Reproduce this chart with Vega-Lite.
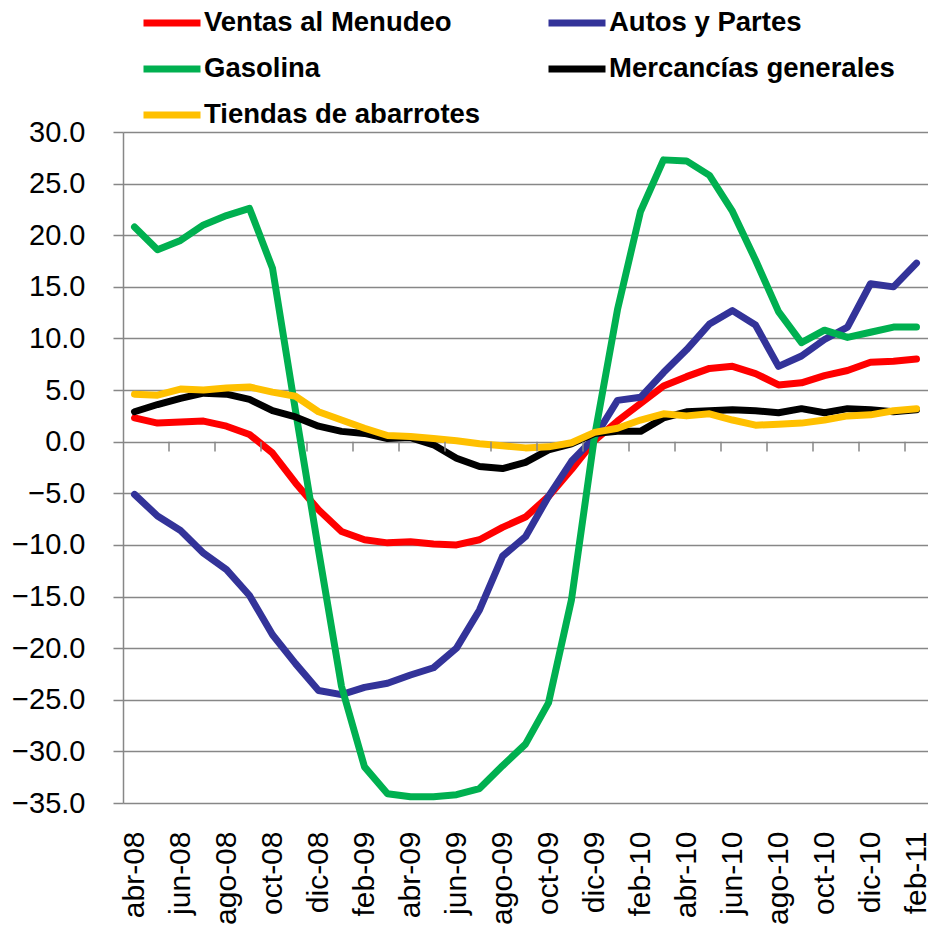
{
  "$schema": "https://vega.github.io/schema/vega-lite/v6.json",
  "autosize": "none",
  "width": 805,
  "height": 671,
  "padding": {"left": 123, "top": 132, "right": 0, "bottom": 122},
  "background": "white",
  "config": {
    "view": {"stroke": null},
    "font": "Liberation Sans"
  },
  "datasets": {
    "series": [
      {"mes": "abr-08", "Ventas al Menudeo": 2.3, "Autos y Partes": -5.1, "Gasolina": 20.8, "Mercancías generales": 2.9, "Tiendas de abarrotes": 4.6},
      {"mes": "may-08", "Ventas al Menudeo": 1.8, "Autos y Partes": -7.2, "Gasolina": 18.6, "Mercancías generales": 3.6, "Tiendas de abarrotes": 4.5},
      {"mes": "jun-08", "Ventas al Menudeo": 1.9, "Autos y Partes": -8.6, "Gasolina": 19.5, "Mercancías generales": 4.2, "Tiendas de abarrotes": 5.1},
      {"mes": "jul-08", "Ventas al Menudeo": 2.0, "Autos y Partes": -10.8, "Gasolina": 21.0, "Mercancías generales": 4.7, "Tiendas de abarrotes": 5.0},
      {"mes": "ago-08", "Ventas al Menudeo": 1.5, "Autos y Partes": -12.4, "Gasolina": 21.9, "Mercancías generales": 4.6, "Tiendas de abarrotes": 5.2},
      {"mes": "sep-08", "Ventas al Menudeo": 0.7, "Autos y Partes": -14.9, "Gasolina": 22.6, "Mercancías generales": 4.1, "Tiendas de abarrotes": 5.3},
      {"mes": "oct-08", "Ventas al Menudeo": -1.1, "Autos y Partes": -18.7, "Gasolina": 16.8, "Mercancías generales": 3.0, "Tiendas de abarrotes": 4.8},
      {"mes": "nov-08", "Ventas al Menudeo": -4.0, "Autos y Partes": -21.5, "Gasolina": 3.0, "Mercancías generales": 2.4, "Tiendas de abarrotes": 4.4},
      {"mes": "dic-08", "Ventas al Menudeo": -6.6, "Autos y Partes": -24.1, "Gasolina": -10.5, "Mercancías generales": 1.5, "Tiendas de abarrotes": 2.9},
      {"mes": "ene-09", "Ventas al Menudeo": -8.7, "Autos y Partes": -24.5, "Gasolina": -23.7, "Mercancías generales": 1.0, "Tiendas de abarrotes": 2.1},
      {"mes": "feb-09", "Ventas al Menudeo": -9.5, "Autos y Partes": -23.8, "Gasolina": -31.5, "Mercancías generales": 0.8, "Tiendas de abarrotes": 1.3},
      {"mes": "mar-09", "Ventas al Menudeo": -9.8, "Autos y Partes": -23.4, "Gasolina": -34.1, "Mercancías generales": 0.3, "Tiendas de abarrotes": 0.6},
      {"mes": "abr-09", "Ventas al Menudeo": -9.7, "Autos y Partes": -22.6, "Gasolina": -34.4, "Mercancías generales": 0.4, "Tiendas de abarrotes": 0.5},
      {"mes": "may-09", "Ventas al Menudeo": -9.9, "Autos y Partes": -21.9, "Gasolina": -34.4, "Mercancías generales": -0.3, "Tiendas de abarrotes": 0.3},
      {"mes": "jun-09", "Ventas al Menudeo": -10.0, "Autos y Partes": -20.0, "Gasolina": -34.2, "Mercancías generales": -1.6, "Tiendas de abarrotes": 0.1},
      {"mes": "jul-09", "Ventas al Menudeo": -9.5, "Autos y Partes": -16.3, "Gasolina": -33.6, "Mercancías generales": -2.4, "Tiendas de abarrotes": -0.2},
      {"mes": "ago-09", "Ventas al Menudeo": -8.3, "Autos y Partes": -11.1, "Gasolina": -31.4, "Mercancías generales": -2.6, "Tiendas de abarrotes": -0.4},
      {"mes": "sep-09", "Ventas al Menudeo": -7.3, "Autos y Partes": -9.2, "Gasolina": -29.3, "Mercancías generales": -2.0, "Tiendas de abarrotes": -0.6},
      {"mes": "oct-09", "Ventas al Menudeo": -5.3, "Autos y Partes": -5.3, "Gasolina": -25.3, "Mercancías generales": -0.8, "Tiendas de abarrotes": -0.5},
      {"mes": "nov-09", "Ventas al Menudeo": -2.7, "Autos y Partes": -1.9, "Gasolina": -15.3, "Mercancías generales": -0.2, "Tiendas de abarrotes": -0.1},
      {"mes": "dic-09", "Ventas al Menudeo": 0.1, "Autos y Partes": 0.4, "Gasolina": 0.5, "Mercancías generales": 0.8, "Tiendas de abarrotes": 0.9},
      {"mes": "ene-10", "Ventas al Menudeo": 2.0, "Autos y Partes": 4.0, "Gasolina": 12.8, "Mercancías generales": 1.0, "Tiendas de abarrotes": 1.3},
      {"mes": "feb-10", "Ventas al Menudeo": 3.7, "Autos y Partes": 4.3, "Gasolina": 22.3, "Mercancías generales": 1.0, "Tiendas de abarrotes": 2.1},
      {"mes": "mar-10", "Ventas al Menudeo": 5.4, "Autos y Partes": 6.7, "Gasolina": 27.3, "Mercancías generales": 2.3, "Tiendas de abarrotes": 2.7},
      {"mes": "abr-10", "Ventas al Menudeo": 6.3, "Autos y Partes": 8.9, "Gasolina": 27.2, "Mercancías generales": 2.9, "Tiendas de abarrotes": 2.5},
      {"mes": "may-10", "Ventas al Menudeo": 7.1, "Autos y Partes": 11.4, "Gasolina": 25.8, "Mercancías generales": 3.0, "Tiendas de abarrotes": 2.7},
      {"mes": "jun-10", "Ventas al Menudeo": 7.3, "Autos y Partes": 12.7, "Gasolina": 22.3, "Mercancías generales": 3.1, "Tiendas de abarrotes": 2.1},
      {"mes": "jul-10", "Ventas al Menudeo": 6.6, "Autos y Partes": 11.3, "Gasolina": 17.6, "Mercancías generales": 3.0, "Tiendas de abarrotes": 1.6},
      {"mes": "ago-10", "Ventas al Menudeo": 5.5, "Autos y Partes": 7.3, "Gasolina": 12.6, "Mercancías generales": 2.8, "Tiendas de abarrotes": 1.7},
      {"mes": "sep-10", "Ventas al Menudeo": 5.7, "Autos y Partes": 8.3, "Gasolina": 9.6, "Mercancías generales": 3.2, "Tiendas de abarrotes": 1.8},
      {"mes": "oct-10", "Ventas al Menudeo": 6.4, "Autos y Partes": 9.9, "Gasolina": 10.8, "Mercancías generales": 2.8, "Tiendas de abarrotes": 2.1},
      {"mes": "nov-10", "Ventas al Menudeo": 6.9, "Autos y Partes": 11.1, "Gasolina": 10.1, "Mercancías generales": 3.2, "Tiendas de abarrotes": 2.5},
      {"mes": "dic-10", "Ventas al Menudeo": 7.7, "Autos y Partes": 15.3, "Gasolina": 10.6, "Mercancías generales": 3.1, "Tiendas de abarrotes": 2.6},
      {"mes": "ene-11", "Ventas al Menudeo": 7.8, "Autos y Partes": 15.0, "Gasolina": 11.1, "Mercancías generales": 2.9, "Tiendas de abarrotes": 3.0},
      {"mes": "feb-11", "Ventas al Menudeo": 8.0, "Autos y Partes": 17.3, "Gasolina": 11.1, "Mercancías generales": 3.1, "Tiendas de abarrotes": 3.2}
    ],
    "ticks": [
      {"mes": "jun-08"}, {"mes": "ago-08"}, {"mes": "oct-08"}, {"mes": "dic-08"},
      {"mes": "feb-09"}, {"mes": "abr-09"}, {"mes": "jun-09"}, {"mes": "ago-09"},
      {"mes": "oct-09"}, {"mes": "dic-09"}, {"mes": "feb-10"}, {"mes": "abr-10"},
      {"mes": "jun-10"}, {"mes": "ago-10"}, {"mes": "oct-10"}, {"mes": "dic-10"},
      {"mes": "feb-11"}
    ]
  },
  "layer": [
    {
      "data": {"name": "series"},
      "transform": [
        {"fold": ["Ventas al Menudeo", "Autos y Partes", "Gasolina", "Mercancías generales", "Tiendas de abarrotes"], "as": ["serie", "valor"]}
      ],
      "mark": {"type": "line", "strokeWidth": 7, "strokeCap": "round", "strokeJoin": "round"},
      "encoding": {
        "x": {
          "field": "mes", "type": "nominal", "sort": null,
          "scale": {"type": "band", "paddingInner": 0, "paddingOuter": 0},
          "axis": {
            "title": null,
            "values": ["abr-08", "jun-08", "ago-08", "oct-08", "dic-08", "feb-09", "abr-09", "jun-09", "ago-09", "oct-09", "dic-09", "feb-10", "abr-10", "jun-10", "ago-10", "oct-10", "dic-10", "feb-11"],
            "labelAngle": -90,
            "labelFontSize": 30,
            "labelColor": "black",
            "labelPadding": 28,
            "ticks": false,
            "domain": false,
            "grid": false,
            "labelOverlap": false
          }
        },
        "y": {
          "field": "valor", "type": "quantitative",
          "scale": {"domain": [-35, 30], "nice": false, "zero": false},
          "axis": {
            "title": null,
            "values": [-35, -30, -25, -20, -15, -10, -5, 0, 5, 10, 15, 20, 25, 30],
            "format": ".1f",
            "labelFontSize": 29,
            "labelColor": "black",
            "labelPadding": 28,
            "tickSize": 10,
            "tickColor": "#878787",
            "tickWidth": 1.5,
            "domainColor": "#878787",
            "domainWidth": 1.5,
            "grid": true,
            "gridColor": "#878787",
            "gridWidth": 1.5
          }
        },
        "color": {
          "field": "serie", "type": "nominal",
          "scale": {
            "domain": ["Ventas al Menudeo", "Gasolina", "Tiendas de abarrotes", "Autos y Partes", "Mercancías generales"],
            "range": ["#FF0000", "#00B050", "#FFC000", "#333399", "#000000"]
          },
          "legend": {
            "title": null,
            "orient": "none",
            "legendX": 17,
            "legendY": -141,
            "columns": 2,
            "columnPadding": 53,
            "rowPadding": -4,
            "symbolType": "stroke",
            "symbolSize": 3249,
            "symbolStrokeWidth": 7,
            "labelFontSize": 27.5,
            "labelFontWeight": "bold",
            "labelColor": "black",
            "labelOffset": 0,
            "labelLimit": 0
          }
        }
      }
    },
    {
      "mark": {"type": "rule", "color": "#878787", "strokeWidth": 1.5},
      "encoding": {"y": {"datum": 0}}
    },
    {
      "data": {"name": "ticks"},
      "mark": {"type": "rule", "color": "#878787", "strokeWidth": 1.5},
      "encoding": {
        "x": {"field": "mes", "type": "nominal", "sort": null, "bandPosition": 0},
        "y": {"datum": 0},
        "y2": {"datum": -0.95}
      }
    }
  ]
}
